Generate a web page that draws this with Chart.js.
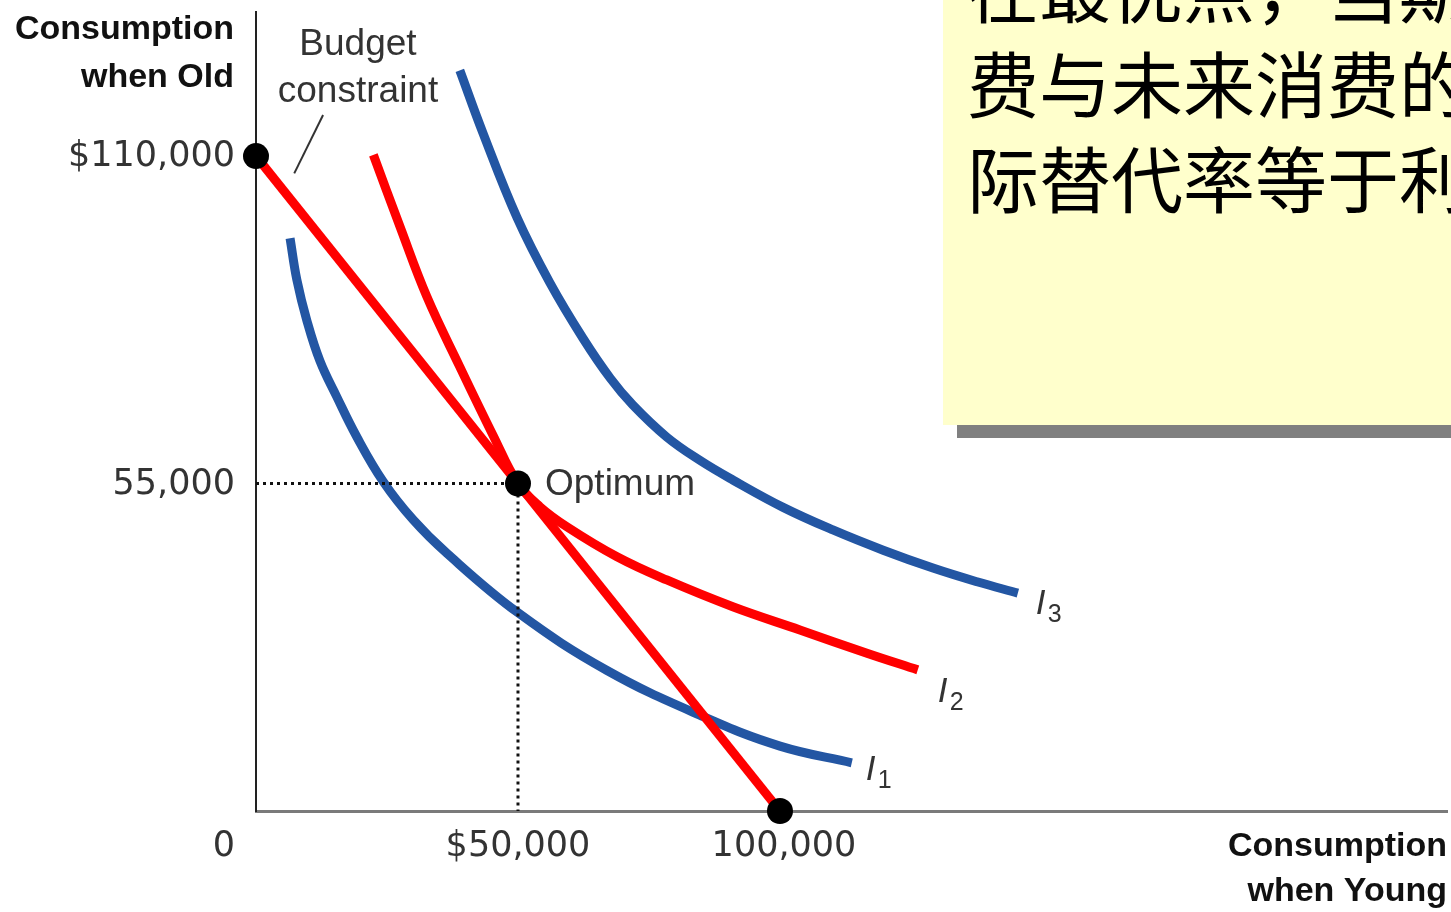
<!DOCTYPE html>
<html>
<head>
<meta charset="utf-8">
<style>
  html, body { margin: 0; padding: 0; background: #fff; }
  canvas { display: block; }
</style>
<script src="https://cdn.jsdelivr.net/npm/chart.js@4.4.1/dist/chart.umd.min.js"></script>
</head>
<body>
<canvas id="graficoConsumo" width="1451" height="912"></canvas>
<script>
// valores em milhares de dolares
var i1X = [6.5, 7.8, 9.7, 12.2, 15.4, 19.2, 24.3, 30.0, 36.4, 50.0, 67.0, 85.5, 100.0, 113.7];
var i1Y = [96.2, 89.2, 82.4, 75.6, 69.6, 62.9, 55.3, 48.9, 43.3, 33.3, 23.6, 15.8, 10.9, 8.1];

var i2X = [22.4, 27.5, 32.6, 38.9, 45.3, 50.0, 54.2, 59.4, 68.9, 78.4, 91.0, 103.8, 116.6, 126.3];
var i2Y = [110.2, 98.1, 86.4, 74.6, 63.0, 55.0, 51.1, 47.7, 42.7, 38.8, 34.3, 30.4, 26.5, 23.7];

var i3X = [38.9, 43.3, 49.8, 56.1, 62.4, 67.6, 71.9, 78.4, 84.7, 91.0, 100.6, 110.1, 119.7, 129.2, 137.6, 145.4];
var i3Y = [124.4, 113.9, 99.7, 88.7, 79.4, 72.7, 68.2, 62.8, 58.9, 55.6, 51.0, 47.2, 43.8, 40.8, 38.5, 36.6];

var budgetX = [0, 100];
var budgetY = [110, 0];

var optimumX = 50;
var optimumY = 55;

var leaderX = [7.3, 12.8];
var leaderY = [107.1, 116.9];

var xTickValues = [0, 50, 100];
var xTickLabels = ['0', '$50,000', '100,000'];
var yTickValues = [55, 110];
var yTickLabels = ['55,000', '$110,000'];

var curveNames = ['1', '2', '3'];

var boxLines = ['在最优点，当期消', '费与未来消费的边', '际替代率等于利率'];

function pontos(xs, ys) {
    return xs.map(function (v, i) { return { x: v, y: ys[i] }; });
}

var azul = '#2356a3';
var vermelho = '#ff0000';

// textos e caixa amarela
var overlay = {
    id: 'overlay',
    afterDraw: function (chart) {
        var ctx = chart.ctx;
        var area = chart.chartArea;
        var x = chart.scales.x;
        var y = chart.scales.y;
        ctx.save();

        // rotulos dos eixos
        ctx.fillStyle = '#333';
        ctx.font = '35px "DejaVu Sans"';
        ctx.textBaseline = 'middle';
        ctx.textAlign = 'right';
        yTickValues.forEach(function (v, i) {
            ctx.fillText(yTickLabels[i], area.left - 21, y.getPixelForValue(v) + 1);
        });
        ctx.textAlign = 'center';
        xTickValues.forEach(function (v, i) {
            var px = x.getPixelForValue(v);
            if (v === 0) px -= 32;
            if (v === 100) px += 4;
            ctx.fillText(xTickLabels[i], px, area.bottom + 36);
        });

        // titulos
        ctx.fillStyle = '#111';
        ctx.font = 'bold 34px "Liberation Sans"';
        ctx.textBaseline = 'alphabetic';
        ctx.textAlign = 'right';
        ctx.fillText('Consumption', area.left - 22, 39);
        ctx.fillText('when Old', area.left - 22, 87);
        ctx.fillText('Consumption', area.right, 856);
        ctx.fillText('when Young', area.right, 901);

        // anotacoes
        ctx.fillStyle = '#333';
        ctx.font = '37px "Liberation Sans"';
        ctx.textAlign = 'center';
        ctx.fillText('Budget', 358, 55);
        ctx.fillText('constraint', 358, 102);
        ctx.textAlign = 'left';
        ctx.textBaseline = 'middle';
        ctx.fillText('Optimum', x.getPixelForValue(optimumX) + 27, y.getPixelForValue(optimumY) + 1);

        // I1, I2, I3
        var fins = [
            [i1X[i1X.length - 1], i1Y[i1Y.length - 1], 14, 17],
            [i2X[i2X.length - 1], i2Y[i2Y.length - 1], 20, 32],
            [i3X[i3X.length - 1], i3Y[i3Y.length - 1], 18, 21]
        ];
        ctx.textBaseline = 'alphabetic';
        fins.forEach(function (f, i) {
            var px = x.getPixelForValue(f[0]) + f[2];
            var py = y.getPixelForValue(f[1]) + f[3];
            ctx.font = 'italic 35px "Liberation Sans"';
            ctx.fillText('I', px, py);
            ctx.font = '25px "Liberation Sans"';
            ctx.fillText(curveNames[i], px + 12, py + 8);
        });

        // caixa de texto
        ctx.fillStyle = '#808080';
        ctx.fillRect(957, 425, 494, 13);
        ctx.fillStyle = '#ffffcc';
        ctx.fillRect(943, 0, 508, 425);
        ctx.fillStyle = '#000';
        ctx.font = '72px "Noto Sans CJK SC"';
        ctx.textAlign = 'left';
        ctx.textBaseline = 'middle';
        boxLines.forEach(function (linha, i) {
            ctx.fillText(linha, 967, -10 + i * 95);
        });

        ctx.restore();
    }
};

var graficoConsumo = document.getElementById('graficoConsumo').getContext('2d');

var lineData = {
    datasets: [
        {
            type: 'scatter',
            data: [{ x: budgetX[0], y: budgetY[0] }, { x: optimumX, y: optimumY }, { x: budgetX[1], y: budgetY[1] }],
            pointRadius: 13,
            pointBackgroundColor: '#000',
            pointBorderWidth: 0,
            showLine: false,
            clip: false
        },
        {
            data: pontos(budgetX, budgetY),
            borderColor: vermelho,
            borderWidth: 9,
            pointRadius: 0,
            clip: false
        },
        {
            data: [{ x: 0, y: optimumY }, { x: optimumX, y: optimumY }, { x: optimumX, y: 0 }],
            borderColor: '#111',
            borderWidth: 3,
            borderDash: [3, 4],
            pointRadius: 0,
            clip: false
        },
        {
            data: pontos(i1X, i1Y),
            borderColor: azul,
            borderWidth: 9,
            tension: 0.4,
            pointRadius: 0
        },
        {
            data: pontos(i2X, i2Y),
            borderColor: vermelho,
            borderWidth: 9,
            tension: 0.4,
            pointRadius: 0
        },
        {
            data: pontos(i3X, i3Y),
            borderColor: azul,
            borderWidth: 9,
            tension: 0.4,
            pointRadius: 0
        },
        {
            data: pontos(leaderX, leaderY),
            borderColor: '#333',
            borderWidth: 2,
            pointRadius: 0,
            clip: false
        }
    ]
};

var lineChart = new Chart(graficoConsumo, {
    type: 'line',
    data: lineData,
    options: {
        responsive: false,
        animation: false,
        devicePixelRatio: 1,
        layout: {
            autoPadding: false,
            padding: { left: 256, top: 12, right: 4, bottom: 101 }
        },
        plugins: {
            legend: { display: false },
            tooltip: { enabled: false }
        },
        scales: {
            x: {
                type: 'linear',
                min: 0,
                max: 227.3,
                ticks: { display: false },
                grid: { display: false, drawTicks: false, tickLength: 0 },
                border: { display: true, color: '#7a7a7a', width: 3 }
            },
            y: {
                type: 'linear',
                min: 0,
                max: 134.2,
                ticks: { display: false },
                grid: { display: false, drawTicks: false, tickLength: 0 },
                border: { display: true, color: '#222', width: 2 }
            }
        }
    },
    plugins: [overlay]
});
</script>
</body>
</html>
